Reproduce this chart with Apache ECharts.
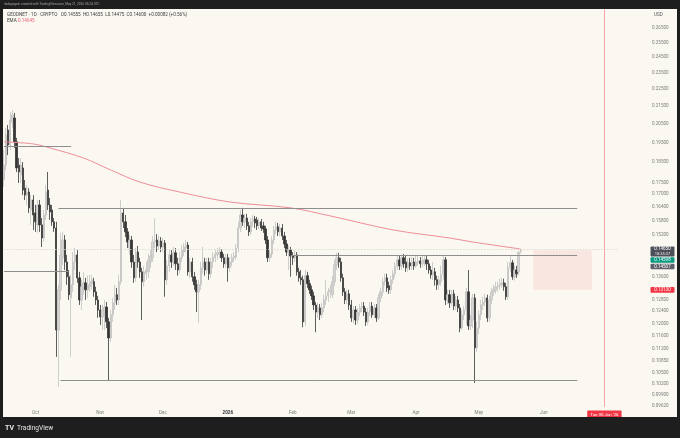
<!DOCTYPE html>
<html><head><meta charset="utf-8">
<script src="https://cdn.jsdelivr.net/npm/echarts@6/dist/echarts.min.js"></script>
<style>html,body{margin:0;padding:0;background:#1e1e1e;}#c{width:680px;height:438px;}</style>
</head><body><div id="c"></div>
<script>
// ---- data ----
const startDate = '2025-09-16';
const dayCount = 294; // daily categories to early July 2026
const categories = [];
(function(){ const d0 = new Date(startDate + 'T00:00:00Z'); for (let i = 0; i < dayCount; i++) { const d = new Date(d0.getTime() + i * 86400000); categories.push(d.toISOString().slice(0,10)); } })();

// daily candles [open, close, low, high], starting 2025-09-16
const candles = [
[0.1763,0.1835,0.1730,0.1911],[0.1835,0.1989,0.1811,0.2027],[0.2016,0.1937,0.1885,0.2043],[0.1937,0.2071,0.1911,0.2116],
[0.2060,0.2099,0.2027,0.2127],[0.2082,0.1953,0.1921,0.2110],[0.1953,0.1821,0.1801,0.1974],[0.1835,0.1801,0.1749,0.1870],
[0.1787,0.1835,0.1749,0.1870],[0.1821,0.1716,0.1693,0.1850],[0.1725,0.1693,0.1671,0.1763],[0.1693,0.1707,0.1649,0.1739],
[0.1707,0.1636,0.1614,0.1725],[0.1627,0.1671,0.1563,0.1693],[0.1671,0.1605,0.1542,0.1693],[0.1614,0.1576,0.1534,0.1649],
[0.1563,0.1649,0.1530,0.1671],[0.1649,0.1563,0.1534,0.1671],[0.1563,0.1509,0.1473,0.1592],[0.1509,0.1605,0.1493,0.1627],
[0.1605,0.1707,0.1584,0.1739],[0.1716,0.1649,0.1627,0.1801],[0.1649,0.1618,0.1584,0.1680],[0.1627,0.1576,0.1559,0.1649],
[0.1576,0.1550,0.1534,0.1592],[0.1550,0.1179,0.1097,0.1576],[0.1179,0.1313,0.1012,0.1331],[0.1313,0.1442,0.1278,0.1530],
[0.1431,0.1501,0.1404,0.1534],[0.1501,0.1415,0.1385,0.1521],[0.1415,0.1360,0.1331,0.1442],[0.1360,0.1296,0.1278,0.1385],
[0.1285,0.1331,0.1097,0.1367],[0.1331,0.1415,0.1306,0.1453],[0.1415,0.1442,0.1385,0.1469],[0.1442,0.1356,0.1338,0.1461],
[0.1356,0.1278,0.1261,0.1378],[0.1278,0.1324,0.1244,0.1349],[0.1320,0.1338,0.1296,0.1378],[0.1338,0.1313,0.1278,0.1356],
[0.1313,0.1331,0.1285,0.1364],[0.1324,0.1342,0.1306,0.1367],[0.1335,0.1349,0.1313,0.1367],[0.1342,0.1306,0.1289,0.1356],
[0.1306,0.1278,0.1261,0.1324],[0.1278,0.1244,0.1218,0.1292],[0.1244,0.1221,0.1195,0.1261],[0.1221,0.1244,0.1179,0.1261],
[0.1237,0.1254,0.1179,0.1278],[0.1254,0.1205,0.1185,0.1271],[0.1205,0.1154,0.1031,0.1218],[0.1154,0.1228,0.1142,0.1244],
[0.1228,0.1268,0.1205,0.1285],[0.1268,0.1296,0.1244,0.1331],[0.1296,0.1278,0.1261,0.1320],[0.1278,0.1342,0.1261,0.1367],
[0.1342,0.1614,0.1331,0.1671],[0.1614,0.1576,0.1550,0.1636],[0.1576,0.1534,0.1513,0.1605],[0.1534,0.1493,0.1469,0.1550],
[0.1469,0.1501,0.1442,0.1521],[0.1501,0.1415,0.1393,0.1517],[0.1415,0.1356,0.1338,0.1442],[0.1356,0.1453,0.1342,0.1469],
[0.1453,0.1415,0.1393,0.1477],[0.1415,0.1378,0.1356,0.1431],[0.1378,0.1342,0.1211,0.1393],[0.1342,0.1378,0.1324,0.1400],
[0.1371,0.1385,0.1349,0.1415],[0.1378,0.1423,0.1356,0.1446],[0.1415,0.1438,0.1393,0.1461],[0.1431,0.1493,0.1415,0.1517],
[0.1493,0.1501,0.1469,0.1592],[0.1501,0.1477,0.1453,0.1525],[0.1477,0.1497,0.1461,0.1517],[0.1497,0.1473,0.1453,0.1513],
[0.1473,0.1489,0.1453,0.1509],[0.1489,0.1349,0.1289,0.1501],[0.1349,0.1400,0.1331,0.1423],[0.1400,0.1442,0.1378,0.1461],
[0.1442,0.1415,0.1393,0.1461],[0.1415,0.1450,0.1400,0.1473],[0.1450,0.1408,0.1385,0.1469],[0.1408,0.1385,0.1364,0.1431],
[0.1385,0.1431,0.1371,0.1453],[0.1431,0.1461,0.1415,0.1481],[0.1453,0.1473,0.1438,0.1489],[0.1469,0.1481,0.1453,0.1501],
[0.1481,0.1378,0.1364,0.1493],[0.1378,0.1415,0.1356,0.1431],[0.1415,0.1360,0.1342,0.1431],[0.1360,0.1331,0.1313,0.1378],
[0.1331,0.1306,0.1237,0.1349],[0.1306,0.1331,0.1201,0.1349],[0.1331,0.1393,0.1313,0.1415],[0.1393,0.1415,0.1371,0.1473],
[0.1415,0.1385,0.1364,0.1431],[0.1385,0.1415,0.1371,0.1431],[0.1415,0.1371,0.1349,0.1431],[0.1371,0.1415,0.1356,0.1431],
[0.1415,0.1434,0.1393,0.1453],[0.1431,0.1446,0.1415,0.1461],[0.1442,0.1450,0.1423,0.1469],[0.1446,0.1453,0.1431,0.1473],
[0.1453,0.1431,0.1415,0.1465],[0.1431,0.1408,0.1393,0.1446],[0.1408,0.1431,0.1393,0.1446],[0.1431,0.1393,0.1342,0.1446],
[0.1393,0.1415,0.1378,0.1434],[0.1415,0.1431,0.1400,0.1446],[0.1431,0.1438,0.1415,0.1453],[0.1434,0.1469,0.1423,0.1485],
[0.1469,0.1550,0.1453,0.1576],[0.1550,0.1605,0.1534,0.1627],[0.1605,0.1576,0.1559,0.1636],[0.1576,0.1592,0.1550,0.1610],
[0.1592,0.1559,0.1542,0.1610],[0.1559,0.1534,0.1517,0.1576],[0.1534,0.1576,0.1521,0.1592],[0.1576,0.1588,0.1555,0.1605],
[0.1588,0.1571,0.1550,0.1601],[0.1584,0.1559,0.1542,0.1597],[0.1559,0.1576,0.1546,0.1592],[0.1576,0.1550,0.1538,0.1588],
[0.1559,0.1546,0.1530,0.1576],[0.1546,0.1501,0.1485,0.1559],[0.1501,0.1431,0.1415,0.1517],[0.1431,0.1446,0.1415,0.1461],
[0.1446,0.1501,0.1431,0.1517],[0.1501,0.1542,0.1485,0.1559],[0.1542,0.1555,0.1525,0.1576],[0.1555,0.1534,0.1517,0.1571],
[0.1534,0.1550,0.1517,0.1567],[0.1550,0.1517,0.1501,0.1567],[0.1517,0.1485,0.1469,0.1534],[0.1485,0.1453,0.1438,0.1501],
[0.1453,0.1461,0.1385,0.1477],[0.1461,0.1438,0.1360,0.1473],[0.1438,0.1431,0.1404,0.1453],[0.1431,0.1442,0.1415,0.1461],
[0.1442,0.1378,0.1364,0.1453],[0.1378,0.1356,0.1342,0.1393],[0.1356,0.1349,0.1331,0.1385],[0.1349,0.1205,0.1188,0.1364],
[0.1205,0.1364,0.1192,0.1385],[0.1364,0.1335,0.1320,0.1378],[0.1335,0.1313,0.1299,0.1349],[0.1313,0.1292,0.1278,0.1328],
[0.1292,0.1261,0.1244,0.1306],[0.1261,0.1237,0.1172,0.1271],[0.1237,0.1251,0.1218,0.1268],[0.1251,0.1228,0.1211,0.1264],
[0.1228,0.1251,0.1218,0.1268],[0.1251,0.1278,0.1237,0.1296],[0.1278,0.1292,0.1261,0.1349],[0.1292,0.1306,0.1271,0.1320],
[0.1306,0.1313,0.1285,0.1331],[0.1296,0.1342,0.1285,0.1364],[0.1342,0.1404,0.1328,0.1423],[0.1404,0.1431,0.1385,0.1450],
[0.1431,0.1415,0.1393,0.1450],[0.1415,0.1356,0.1342,0.1431],[0.1356,0.1306,0.1292,0.1371],[0.1306,0.1278,0.1264,0.1320],
[0.1278,0.1299,0.1264,0.1313],[0.1299,0.1261,0.1244,0.1313],[0.1261,0.1218,0.1205,0.1278],[0.1218,0.1244,0.1201,0.1257],
[0.1244,0.1211,0.1195,0.1257],[0.1211,0.1237,0.1198,0.1251],[0.1237,0.1251,0.1224,0.1264],[0.1251,0.1257,0.1237,0.1271],
[0.1257,0.1237,0.1224,0.1271],[0.1237,0.1205,0.1192,0.1251],[0.1205,0.1237,0.1195,0.1251],[0.1237,0.1257,0.1224,0.1271],
[0.1257,0.1228,0.1218,0.1271],[0.1228,0.1251,0.1218,0.1264],[0.1251,0.1218,0.1205,0.1264],[0.1218,0.1285,0.1211,0.1299],
[0.1285,0.1306,0.1271,0.1320],[0.1306,0.1342,0.1292,0.1356],[0.1342,0.1356,0.1328,0.1371],[0.1356,0.1320,0.1306,0.1371],
[0.1328,0.1313,0.1299,0.1342],[0.1313,0.1349,0.1299,0.1364],[0.1349,0.1371,0.1335,0.1385],[0.1371,0.1400,0.1356,0.1415],
[0.1400,0.1423,0.1385,0.1438],[0.1423,0.1400,0.1385,0.1438],[0.1400,0.1431,0.1385,0.1442],[0.1431,0.1408,0.1393,0.1446],
[0.1415,0.1393,0.1378,0.1438],[0.1393,0.1412,0.1378,0.1427],[0.1412,0.1400,0.1385,0.1431],[0.1400,0.1415,0.1385,0.1434],
[0.1415,0.1400,0.1385,0.1431],[0.1400,0.1415,0.1393,0.1438],[0.1415,0.1419,0.1400,0.1438],[0.1419,0.1408,0.1393,0.1434],
[0.1408,0.1419,0.1396,0.1438],[0.1415,0.1423,0.1400,0.1438],[0.1423,0.1408,0.1385,0.1438],[0.1408,0.1385,0.1371,0.1423],
[0.1385,0.1367,0.1353,0.1400],[0.1367,0.1378,0.1349,0.1415],[0.1378,0.1349,0.1328,0.1393],[0.1349,0.1331,0.1313,0.1364],
[0.1331,0.1349,0.1313,0.1364],[0.1342,0.1367,0.1328,0.1400],[0.1367,0.1423,0.1349,0.1438],[0.1423,0.1278,0.1261,0.1434],
[0.1278,0.1296,0.1264,0.1313],[0.1296,0.1268,0.1251,0.1313],[0.1268,0.1299,0.1257,0.1313],[0.1299,0.1257,0.1244,0.1313],
[0.1257,0.1278,0.1244,0.1292],[0.1278,0.1251,0.1237,0.1292],[0.1251,0.1185,0.1172,0.1264],[0.1185,0.1228,0.1179,0.1244],
[0.1228,0.1244,0.1211,0.1257],[0.1244,0.1306,0.1195,0.1320],[0.1306,0.1192,0.1179,0.1385],[0.1192,0.1211,0.1179,0.1228],
[0.1211,0.1285,0.1185,0.1299],[0.1285,0.1124,0.1023,0.1299],[0.1124,0.1185,0.1112,0.1205],[0.1185,0.1228,0.1166,0.1244],
[0.1228,0.1261,0.1211,0.1278],[0.1261,0.1271,0.1244,0.1289],[0.1271,0.1285,0.1257,0.1299],[0.1285,0.1218,0.1205,0.1296],
[0.1218,0.1278,0.1205,0.1292],[0.1278,0.1306,0.1264,0.1320],[0.1306,0.1313,0.1292,0.1331],[0.1313,0.1324,0.1299,0.1342],
[0.1324,0.1328,0.1306,0.1342],[0.1328,0.1335,0.1313,0.1353],[0.1331,0.1338,0.1320,0.1356],[0.1338,0.1324,0.1310,0.1353],
[0.1324,0.1289,0.1278,0.1338],[0.1289,0.1393,0.1278,0.1415],[0.1393,0.1412,0.1378,0.1442],[0.1412,0.1360,0.1349,0.1423],
[0.1360,0.1385,0.1346,0.1400],[0.1385,0.1371,0.1356,0.1400],[0.1378,0.14518,0.1364,0.1457],[0.14555,0.14600,0.14475,0.14655]
];

// 200-day EMA read at sample dates
const emaPoints = [
['2025-09-16',0.1953],['2025-09-30',0.1942],['2025-10-08',0.1921],['2025-10-24',0.1870],['2025-11-06',0.1811],
['2025-11-20',0.1753],['2025-12-09',0.1707],['2026-01-02',0.1662],['2026-01-31',0.1636],['2026-02-19',0.1601],
['2026-03-21',0.1542],['2026-04-17',0.1509],['2026-04-28',0.1493],['2026-05-21',0.1465]
];

// drawn horizontal levels
const levels = [
{from:'2025-09-16', to:'2025-10-18', price:0.1932},
{from:'2025-10-12', to:'2026-06-17', price:0.1636},
{from:'2026-01-31', to:'2026-06-17', price:0.1441},
{from:'2025-09-16', to:'2025-10-17', price:0.1381},
{from:'2025-10-13', to:'2026-06-17', price:0.1031}
];
const currentPrice = 0.1465;
const stopPrice = 0.1313;
const entryPrice = 0.14598;
const boxFrom = '2026-05-27', boxTo = '2026-06-24';
const markDate = '2026-06-30';

const priceTicks = [0.265,0.255,0.245,0.235,0.225,0.215,0.205,0.195,0.185,0.175,0.17,0.164,0.158,0.152,0.136,0.128,0.124,0.12,0.116,0.112,0.1085,0.105,0.102,0.099,0.0962];
const monthNames = ['Jan','Feb','Mar','Apr','May','Jun','Jul','Aug','Sep','Oct','Nov','Dec'];

// ---- chart ----
const chart = echarts.init(document.getElementById('c'), null, {renderer:'canvas'});
const FONT = 'Roboto';
const lvlLines = levels.map(l => [{coord:[l.from, l.price]}, {coord:[l.to, l.price]}]);
const priceLine = [{coord:[categories[0], currentPrice], lineStyle: {color: '#d6d3cb', width: 0.8, type: [1.5, 1.5]}}, {coord:[categories[categories.length-1], currentPrice]}];

chart.setOption({
  animation: false,
  backgroundColor: '#faf8f1',
  grid: {left: 3, right: 62, top: 9, bottom: 31},
  xAxis: {
    type: 'category', data: categories, boundaryGap: true,
    axisLine: {show: false}, axisTick: {show: false}, splitLine: {show: false},
    axisLabel: {
      interval: function (idx, val) { return (val.slice(8) === '01' && val !== '2026-07-01') || val === markDate; },
      formatter: function (val) {
        if (val === markDate) return '{red|Tue 30 Jun \'26}';
        const m = parseInt(val.slice(5,7), 10) - 1;
        if (m === 0) return '{b|' + val.slice(0,4) + '}';
        return monthNames[m];
      },
      color: '#7b7b7b', fontSize: 4.6, fontFamily: FONT, margin: 3.5,
      rich: {
        b: {fontWeight: 'bold', color: '#333', fontSize: 4.6, fontFamily: FONT},
        red: {backgroundColor: '#f23645', color: '#fff', fontSize: 4.4, fontFamily: FONT, padding: [2, 3, 1.5, 3], borderRadius: 1}
      }
    }
  },
  yAxis: {
    type: 'log', position: 'right', min: 0.0959, max: 0.2789, scale: true,
    axisLine: {show: false}, axisTick: {show: false}, splitLine: {show: false}, minorTick: {show: false},
    axisLabel: {customValues: priceTicks, formatter: v => Number(v).toFixed(5), color: '#7b7b7b', fontSize: 4.6, fontFamily: FONT, align: 'left', margin: 34}
  },
  series: [
    {
      type: 'candlestick', data: candles, barWidth: 1.8,
      itemStyle: {color: '#d6d6d6', borderColor: '#c2c2c2', color0: '#363636', borderColor0: '#363636', borderWidth: 0.8},
      markLine: {
        silent: true, symbol: 'none', label: {show: false}, animation: false,
        lineStyle: {color: '#8e8e8e', width: 1, type: 'solid'},
        data: lvlLines.concat([
          priceLine,
          {xAxis: markDate, lineStyle: {color: '#f4a3aa', width: 1, type: 'solid'}}
        ])
      },
      markArea: {
        silent: true,
        itemStyle: {color: 'rgba(242,54,69,0.09)'},
        data: [[{coord: [boxFrom, entryPrice]}, {coord: [boxTo, stopPrice]}]]
      }
    },
    {
      type: 'line', data: emaPoints, smooth: 0.35, showSymbol: false, symbol: 'none',
      lineStyle: {color: '#ef8d98', width: 1}, z: 3, silent: true
    }
  ]
});

const yCur = chart.convertToPixel({yAxisIndex: 0}, currentPrice);
const yStop = chart.convertToPixel({yAxisIndex: 0}, stopPrice);
const dark = '#1e1e1e';
const txt = (t, x, y, o) => Object.assign({type: 'text', x: x, y: y, z: 101, silent: true,
  style: Object.assign({text: t, fontFamily: FONT, verticalAlign: 'middle'}, o)});
const rect = (x, y, w, h, fill, z) => ({type: 'rect', z: z || 100, silent: true, shape: {x: x, y: y, width: w, height: h, r: 1}, style: {fill: fill}});

const g = [
  {type: 'rect', z: 100, silent: true, shape: {x: 0, y: 0, width: 680, height: 9}, style: {fill: dark}},
  {type: 'rect', z: 100, silent: true, shape: {x: 0, y: 417, width: 680, height: 21}, style: {fill: dark}},
  {type: 'rect', z: 100, silent: true, shape: {x: 0, y: 0, width: 3, height: 438}, style: {fill: dark}},
  {type: 'rect', z: 100, silent: true, shape: {x: 677, y: 0, width: 3, height: 438}, style: {fill: dark}},
  txt('itsdayagain created with TradingView.com, May 21, 2026 05:24 UTC', 4, 4.6, {fill: '#a3a3a3', fontSize: 3.2}),
  txt('GEODNET · 1D · CRYPTO   O0.14555  H0.14655  L0.14475  C0.14600  +0.00082 (+0.56%)', 7, 15, {fill: '#3c3c3c', fontSize: 4.6}),
  txt('EMA', 7, 21.2, {fill: '#3c3c3c', fontSize: 4.6}),
  txt('0.14645', 18, 21.2, {fill: '#ee5f78', fontSize: 4.6}),
  txt('USD', 654, 15, {fill: '#555', fontSize: 4.6}),
  rect(650.5, yCur - 2.6, 24, 10, '#4d5059'),
  txt('0.14650', 662.5, yCur - 0.1, {fill: '#fff', fontSize: 4.5, align: 'center'}),
  txt('18:35:37', 662.5, yCur + 4.8, {fill: '#e0e0e0', fontSize: 4, align: 'center'}),
  rect(650.5, yCur + 8.2, 24, 5.6, '#089981'),
  txt('0.14598', 662.5, yCur + 11, {fill: '#fff', fontSize: 4.5, align: 'center'}),
  rect(650.5, yCur + 14.6, 24, 5.6, '#5f626c'),
  txt('0.14507', 662.5, yCur + 17.4, {fill: '#fff', fontSize: 4.5, align: 'center'}),
  rect(650.5, yStop - 2.8, 24, 5.6, '#f23645'),
  txt('0.13130', 662.5, yStop, {fill: '#fff', fontSize: 4.5, align: 'center'}),
  txt('TV', 5, 428, {fill: '#e6e6e6', fontSize: 7, fontWeight: 'bold'}),
  txt('TradingView', 17, 428, {fill: '#e6e6e6', fontSize: 6.6})
];
chart.setOption({graphic: g});
</script></body></html>
